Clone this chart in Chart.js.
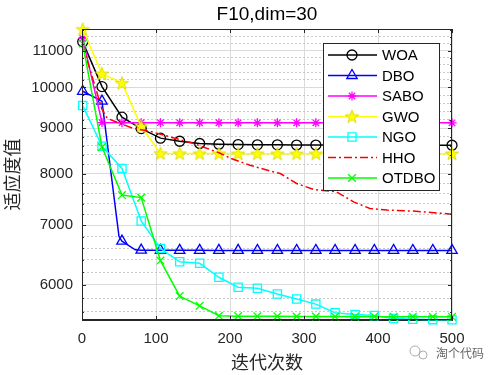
<!DOCTYPE html>
<html>
<head>
<meta charset="utf-8">
<script src="https://cdn.jsdelivr.net/npm/chart.js@4.4.0/dist/chart.umd.min.js"></script>
<style>
html, body { margin: 0; padding: 0; background: #fff; }
#wrap { width: 500px; height: 375px; }
</style>
</head>
<body>
<div id="wrap"><canvas id="c" width="500" height="375"></canvas></div>
<script>
// iterations where the markers sit
var markIter = [1, 27, 54, 80, 106, 132, 159, 185, 211, 237, 264, 290, 316, 342, 369, 395, 421, 447, 474, 500];

var woa = [11250, 10020, 9260, 8990, 8770, 8700, 8650, 8635, 8625, 8620, 8620, 8615, 8615, 8615, 8612, 8612, 8610, 8610, 8610, 8610];

var dboIter = [1, 27, 50, 54, 72, 80, 106, 132, 159, 185, 211, 237, 264, 290, 316, 342, 369, 395, 421, 447, 474, 500];
var dbo = [9900, 9650, 6800, 6720, 6570, 6565, 6563, 6562, 6562, 6561, 6561, 6560, 6560, 6560, 6560, 6560, 6560, 6560, 6560, 6560, 6560, 6560];

var sabo = [11350, 9130, 9128, 9127, 9127, 9126, 9126, 9126, 9125, 9125, 9125, 9125, 9125, 9125, 9125, 9125, 9125, 9125, 9125, 9125];

var gwo = [11620, 10360, 10110, 9040, 8430, 8428, 8427, 8427, 8426, 8426, 8426, 8425, 8425, 8425, 8425, 8425, 8425, 8425, 8425, 8425];

var ngo = [9540, 8590, 8110, 7080, 6595, 6370, 6345, 6120, 5965, 5950, 5860, 5785, 5710, 5585, 5560, 5545, 5500, 5490, 5485, 5482];

var hhoIter = [1, 27, 34, 69, 92, 116, 150, 186, 200, 227, 254, 268, 290, 313, 344, 367, 389, 412, 448, 500];
var hho = [11150, 9450, 9230, 8996, 8926, 8812, 8654, 8440, 8330, 8177, 8057, 8003, 7800, 7680, 7633, 7438, 7312, 7281, 7262, 7205];

var otdbo = [11200, 8570, 7570, 7520, 6390, 5830, 5685, 5540, 5535, 5533, 5532, 5530, 5530, 5529, 5528, 5528, 5527, 5527, 5526, 5526];

var yMajor = [6000, 7000, 8000, 9000, 10000, 11000];
var yMinor = [5600, 5800, 6200, 6400, 6600, 6800, 7200, 7400, 7600, 7800, 8200, 8400, 8600, 8800,
              9200, 9400, 9600, 9800, 10200, 10400, 10600, 10800, 11200, 11400, 11600];
var xTicks = [0, 100, 200, 300, 400, 500];

// yellow pentagram marker
var starImg = document.createElement('canvas');
starImg.width = 16; starImg.height = 16;
(function () {
    var g = starImg.getContext('2d');
    g.beginPath();
    for (var i = 0; i < 10; i++) {
        var r = i % 2 ? 2.8 : 7;
        var a = -Math.PI / 2 + i * Math.PI / 5;
        g.lineTo(8 + r * Math.cos(a), 8.5 + r * Math.sin(a));
    }
    g.closePath();
    g.fillStyle = '#ffff00';
    g.fill();
    g.strokeStyle = '#d4d400';
    g.lineWidth = 0.8;
    g.stroke();
})();

function series(label, xs, ys, color, style, r, order) {
    return {
        label: label,
        data: xs.map(function (x, i) { return {x: x, y: ys[i]}; }),
        borderColor: color,
        backgroundColor: color,
        borderWidth: 1.5,
        pointStyle: style,
        pointBorderColor: color,
        pointBackgroundColor: 'rgba(0,0,0,0)',
        pointBorderWidth: 1.3,
        markR: r,
        pointRadius: function (c) {
            return c.raw && markIter.indexOf(c.raw.x) >= 0 ? r : 0;
        },
        pointHoverRadius: 0,
        tension: 0,
        clip: false,
        order: order
    };
}

var sets = [
    series('WOA', markIter, woa, '#000000', 'circle', 5, 7),
    series('DBO', dboIter, dbo, '#0000ff', 'triangle', 6, 6),
    series('SABO', markIter, sabo, '#ff00ff', 'star', 4.5, 5),
    series('GWO', markIter, gwo, '#ffff00', starImg, 6, 4),
    series('NGO', markIter, ngo, '#00ffff', 'rect', 5.8, 3),
    series('HHO', hhoIter, hho, '#ff0000', false, 0, 2),
    series('OTDBO', markIter, otdbo, '#00ff00', 'crossRot', 5.4, 1)
];
sets[5].borderDash = [8, 3, 2, 3];
sets[5].pointRadius = 0;

function drawMark(ctx, style, r, x, y, color) {
    ctx.save();
    ctx.strokeStyle = color;
    ctx.lineWidth = 1.3;
    ctx.setLineDash([]);
    ctx.beginPath();
    if (style === starImg) {
        ctx.drawImage(starImg, x - 8, y - 8);
    } else if (style === 'circle') {
        ctx.arc(x, y, r, 0, Math.PI * 2);
    } else if (style === 'triangle') {
        ctx.moveTo(x, y - r);
        ctx.lineTo(x + r * 0.866, y + r / 2);
        ctx.lineTo(x - r * 0.866, y + r / 2);
        ctx.closePath();
    } else if (style === 'rect') {
        var s = r * Math.SQRT1_2;
        ctx.rect(x - s, y - s, 2 * s, 2 * s);
    } else if (style === 'star' || style === 'crossRot') {
        var d = r * Math.SQRT1_2;
        ctx.moveTo(x - d, y - d); ctx.lineTo(x + d, y + d);
        ctx.moveTo(x + d, y - d); ctx.lineTo(x - d, y + d);
        if (style === 'star') {
            ctx.moveTo(x - r, y); ctx.lineTo(x + r, y);
            ctx.moveTo(x, y - r); ctx.lineTo(x, y + r);
        }
    }
    ctx.stroke();
    ctx.restore();
}

var matlabFrame = {
    id: 'matlabFrame',
    afterDraw: function (chart) {
        var ctx = chart.ctx, a = chart.chartArea;
        var ys = chart.scales.y, xs = chart.scales.x;
        ctx.save();

        // box and inward ticks
        ctx.strokeStyle = '#262626';
        ctx.lineWidth = 1;
        ctx.strokeRect(a.left + 0.5, a.top + 0.5, a.right - a.left - 1, a.bottom - a.top - 1);
        ctx.beginPath();
        xTicks.forEach(function (v) {
            var px = Math.round(xs.getPixelForValue(v)) + 0.5;
            ctx.moveTo(px, a.bottom); ctx.lineTo(px, a.bottom - 4);
            ctx.moveTo(px, a.top); ctx.lineTo(px, a.top + 4);
        });
        yMajor.forEach(function (v) {
            var py = Math.round(ys.getPixelForValue(v)) + 0.5;
            ctx.moveTo(a.left, py); ctx.lineTo(a.left + 4, py);
            ctx.moveTo(a.right, py); ctx.lineTo(a.right - 4, py);
        });
        yMinor.forEach(function (v) {
            var py = Math.round(ys.getPixelForValue(v)) + 0.5;
            ctx.moveTo(a.left, py); ctx.lineTo(a.left + 2, py);
            ctx.moveTo(a.right, py); ctx.lineTo(a.right - 2, py);
        });
        ctx.stroke();

        // title
        ctx.fillStyle = '#000';
        ctx.font = '19px "Liberation Sans", Arial, sans-serif';
        ctx.textAlign = 'center';
        ctx.textBaseline = 'alphabetic';
        ctx.fillText('F10,dim=30', (a.left + a.right) / 2, 20);

        // legend box
        var lx = 323, ly = 43, lw = 116, lh = 147;
        ctx.fillStyle = '#fff';
        ctx.fillRect(lx, ly, lw, lh);
        ctx.strokeStyle = '#262626';
        ctx.strokeRect(lx + 0.5, ly + 0.5, lw, lh);
        ctx.font = '15px "Liberation Sans", Arial, sans-serif';
        ctx.textAlign = 'left';
        ctx.textBaseline = 'middle';
        chart.data.datasets.forEach(function (d, i) {
            var y = 55 + i * 20.5;
            ctx.save();
            ctx.strokeStyle = d.borderColor;
            ctx.lineWidth = 1.5;
            ctx.setLineDash(d.borderDash || []);
            ctx.beginPath();
            ctx.moveTo(328, y); ctx.lineTo(377, y);
            ctx.stroke();
            ctx.restore();
            if (d.pointStyle) drawMark(ctx, d.pointStyle, d.markR, 352, y, d.borderColor);
            ctx.fillStyle = '#000';
            ctx.fillText(d.label, 382, y + 1);
        });

        // watermark
        ctx.strokeStyle = '#999';
        ctx.lineWidth = 0.8;
        ctx.beginPath(); ctx.arc(415, 351, 5, 0, Math.PI * 2); ctx.stroke();
        ctx.beginPath(); ctx.arc(423, 355, 4, 0, Math.PI * 2); ctx.stroke();
        ctx.fillStyle = '#666';
        ctx.font = '12px "Noto Sans CJK SC", sans-serif';
        ctx.fillText('淘个代码', 436, 353);
        ctx.restore();
    }
};

new Chart(document.getElementById('c').getContext('2d'), {
    type: 'line',
    data: { datasets: sets },
    options: {
        responsive: false,
        animation: false,
        events: [],
        layout: { padding: { left: 0, right: 48, top: 29, bottom: 0 } },
        plugins: { legend: { display: false }, title: { display: false }, tooltip: { enabled: false } },
        scales: {
            x: {
                type: 'linear',
                min: 0,
                max: 500,
                afterFit: function (s) { s.height = 55; },
                afterBuildTicks: function (s) { s.ticks = xTicks.map(function (v) { return {value: v}; }); },
                ticks: { padding: 10, color: '#262626', font: { family: '"Liberation Sans", Arial, sans-serif', size: 15 } },
                grid: { color: '#dadada', drawTicks: false },
                border: { color: '#262626' },
                title: { display: true, text: '迭代次数', color: '#262626', padding: { top: 0, bottom: 2 },
                         font: { family: '"Noto Sans CJK SC", sans-serif', size: 18 } }
            },
            y: {
                type: 'logarithmic',
                min: 5480,
                max: 11630,
                afterFit: function (s) { s.width = 82; },
                afterBuildTicks: function (s) {
                    s.ticks = yMajor.concat(yMinor).sort(function (p, q) { return p - q; })
                        .map(function (v) { return {value: v}; });
                },
                ticks: {
                    autoSkip: false,
                    padding: 9,
                    color: '#262626',
                    font: { family: '"Liberation Sans", Arial, sans-serif', size: 15 },
                    callback: function (v) { return yMajor.indexOf(v) >= 0 ? String(v) : ''; }
                },
                grid: {
                    drawTicks: false,
                    color: function (c) {
                        return c.tick && yMajor.indexOf(c.tick.value) >= 0 ? '#dadada' : '#cacaca';
                    }
                },
                border: {
                    color: '#262626',
                    dash: function (c) {
                        return c.tick && yMajor.indexOf(c.tick.value) < 0 ? [2, 2] : [];
                    }
                },
                title: { display: true, text: '适应度值', color: '#262626', padding: { top: 1, bottom: 0 },
                         font: { family: '"Noto Sans CJK SC", sans-serif', size: 18 } }
            }
        }
    },
    plugins: [matlabFrame]
});
</script>
</body>
</html>
